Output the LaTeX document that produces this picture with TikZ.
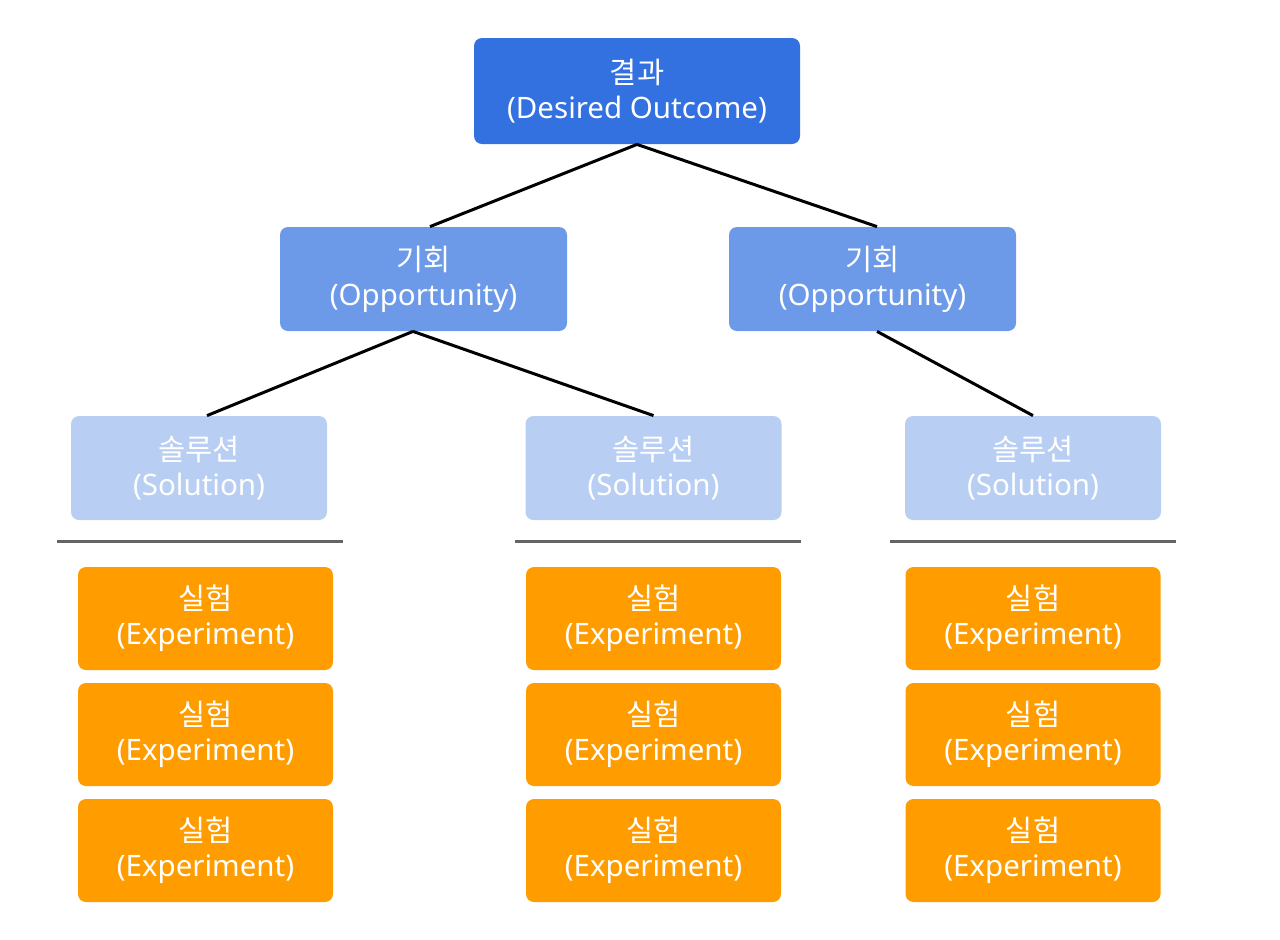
\documentclass[tikz,border=0pt]{standalone}
\usepackage{fontspec}
\setmainfont{Noto Sans}
\newfontfamily\kofont{Noto Sans CJK KR}
\usetikzlibrary{positioning}
\definecolor{outcomeblue}{RGB}{51,112,224}
\definecolor{oppblue}{RGB}{109,154,232}
\definecolor{solblue}{RGB}{184,207,243}
\definecolor{exporange}{RGB}{255,157,0}
\definecolor{sepgray}{RGB}{100,100,100}
\tikzset{
  % all boxes share the same look, only the fill changes
  box/.style={rectangle, rounded corners=4pt, draw=none, text=white,
    align=center, font=\fontsize{14.75}{17.5}\selectfont,
    minimum height=52pt},
  outcome/.style={box, fill=outcomeblue, minimum width=163pt, minimum height=53pt},
  opp/.style={box, fill=oppblue, minimum width=143.5pt},
  sol/.style={box, fill=solblue, minimum width=128pt},
  expbox/.style={box, fill=exporange, minimum width=127.5pt, minimum height=51.5pt},
  link/.style={black, line width=1.5pt},
  sep/.style={sepgray, line width=1.5pt}}
\newcommand{\twolines}[2]{{\kofont #1}\\#2}

\begin{document}
\begin{tikzpicture}[x=0.5pt, y=-0.5pt]
\useasboundingbox (0,0) rectangle (1280,939);

\draw (637,91) node (outcome) [outcome] {\twolines{결과}{(Desired Outcome)}};

\draw (423.5,279) node (oppL) [opp] {\twolines{기회}{(Opportunity)}};
\draw (872.5,279) node (oppR) [opp] {\twolines{기회}{(Opportunity)}};

\draw (199,468) node (solL) [sol] {\twolines{솔루션}{(Solution)}};
\draw (653.5,468) node (solM) [sol] {\twolines{솔루션}{(Solution)}};
\draw (1033,468) node (solR) [sol] {\twolines{솔루션}{(Solution)}};

% tree links
\draw [link] (outcome.south) -- ([xshift=3.25pt]oppL.north);
\draw [link] (outcome.south) -- ([xshift=2.25pt]oppR.north);
\draw [link] ([xshift=-5.25pt]oppL.south) -- ([xshift=4pt]solL.north);
\draw [link] ([xshift=-5.25pt]oppL.south) -- (solM.north);
\draw [link] ([xshift=2.25pt]oppR.south) -- (solR.north);

% separators under the solutions
\draw [sep] (57,541) -- (343,541);
\draw [sep] (515,541) -- (801,541);
\draw [sep] (890,541) -- (1176,541);

% experiments
\foreach \col/\x in {L/205.5, M/653.5, R/1033}{
  \foreach \row/\y in {1/618.5, 2/734.5, 3/850.5}{
    \draw (\x,\y) node (exp\col\row) [expbox] {\twolines{실험}{(Experiment)}};
  }
}

\end{tikzpicture}
\end{document}
